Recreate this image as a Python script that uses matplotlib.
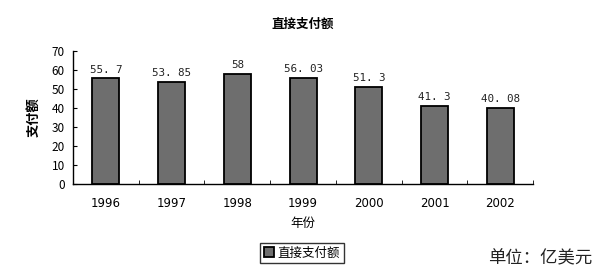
import matplotlib
matplotlib.use("Agg")
import matplotlib.pyplot as plt

plt.rcParams['font.family'] = ['Noto Sans CJK SC', 'DejaVu Sans']

years = ['1996', '1997', '1998', '1999', '2000', '2001', '2002']
values = [55.7, 53.85, 58, 56.03, 51.3, 41.3, 40.08]
labels = ['55. 7', '53. 85', '58', '56. 03', '51. 3', '41. 3', '40. 08']

fig = plt.figure(figsize=(6.01, 2.74), dpi=100)
ax = fig.add_axes([0.1215, 0.328, 0.7655, 0.486])

x = range(len(years))
bars = ax.bar(x, values, width=0.41, color='#6e6e6e', edgecolor='black',
              linewidth=1.3, label='直接支付额')
for xi, v, t in zip(x, values, labels):
    ax.text(xi, v + 1.8, t, ha='center', va='bottom', fontsize=7.8,
            family='DejaVu Sans Mono', color='#222222')

ax.set_xlim(-0.5, len(years) - 0.5)
ax.set_ylim(0, 70)
ax.set_yticks(range(0, 71, 10))
ax.set_xticks(x)
ax.set_xticklabels(years, fontsize=8.5, family='DejaVu Sans')
ax.tick_params(axis='y', labelsize=8.5, direction='in', length=3, pad=6)
ax.tick_params(axis='x', length=0, pad=9)
# category boundary ticks
ax.set_xticks([i - 0.5 for i in range(len(years) + 1)], minor=True)
ax.tick_params(axis='x', which='minor', direction='in', length=3)
for s in ['top', 'right']:
    ax.spines[s].set_visible(False)
ax.spines['left'].set_linewidth(1.0)
ax.spines['bottom'].set_linewidth(1.0)

ax.set_title('直接支付额', fontsize=9, fontweight='bold', pad=17)
ax.set_ylabel('支付额', fontsize=9.5, fontweight='bold', labelpad=8)
ax.set_xlabel('年份', fontsize=9, labelpad=5)

leg = fig.legend(handles=[bars], loc='center', bbox_to_anchor=(302 / 601, 1 - 253 / 274),
                 fontsize=9, frameon=True, fancybox=False, edgecolor='black',
                 handlelength=0.8, handleheight=0.8, handletextpad=0.3,
                 borderpad=0.3, borderaxespad=0)
leg.get_frame().set_linewidth(1.0)

fig.text(540 / 601, 1 - 258 / 274, '单位：亿美元', ha='center', va='center',
         fontsize=12.5, fontweight='light', color='#222222')

fig.savefig('out.png', dpi=100)
